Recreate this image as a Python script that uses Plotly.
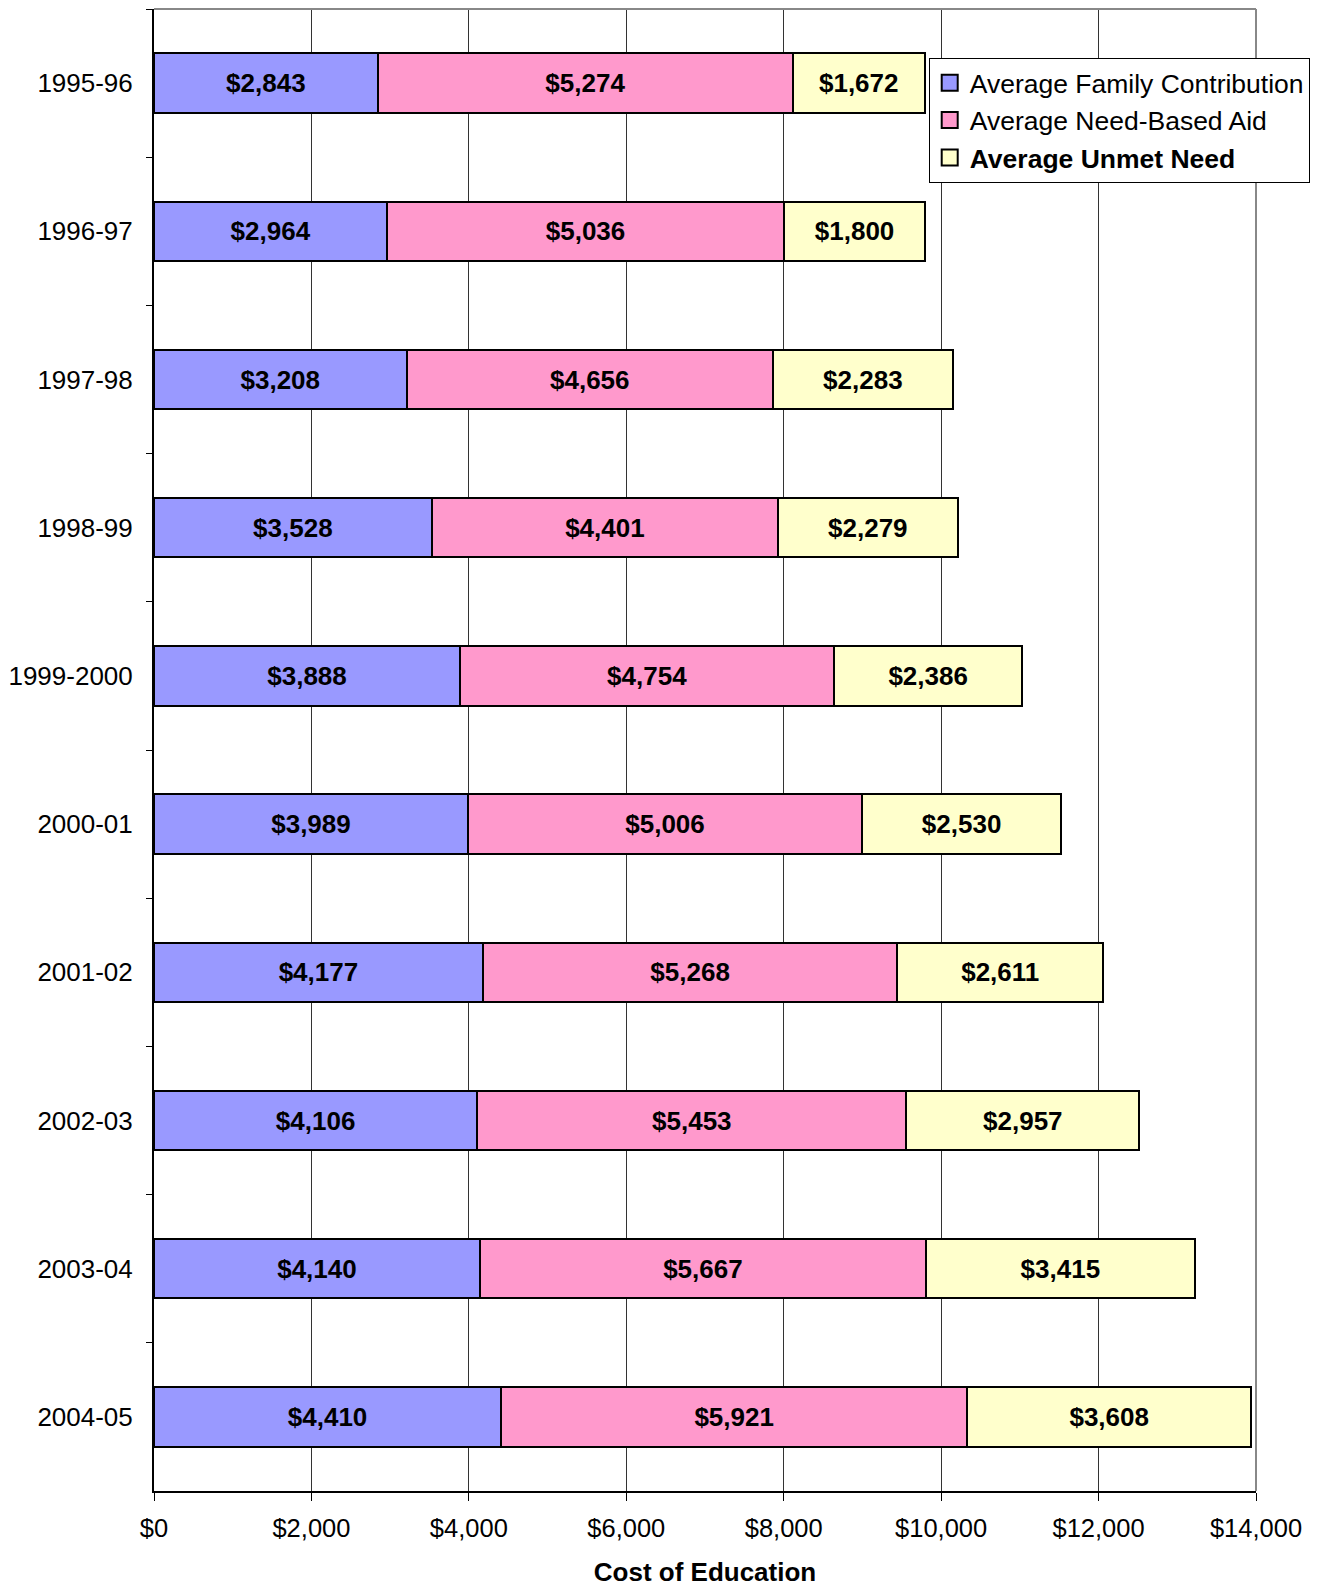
import plotly.graph_objects as go

years = ['1995-96', '1996-97', '1997-98', '1998-99', '1999-2000',
         '2000-01', '2001-02', '2002-03', '2003-04', '2004-05']
family = [2843, 2964, 3208, 3528, 3888, 3989, 4177, 4106, 4140, 4410]
need_aid = [5274, 5036, 4656, 4401, 4754, 5006, 5268, 5453, 5667, 5921]
unmet = [1672, 1800, 2283, 2279, 2386, 2530, 2611, 2957, 3415, 3608]
x_ticks = [0, 2000, 4000, 6000, 8000, 10000, 12000, 14000]

FONT = 'Liberation Sans, Arial, sans-serif'

series = [
    ('Average Family Contribution', family, '#9999FF'),
    ('Average Need-Based Aid', need_aid, '#FF99CC'),
    ('<b>Average Unmet Need</b>', unmet, '#FFFFCC'),
]

fig = go.Figure()
for name, vals, color in series:
    fig.add_bar(
        y=years, x=vals, name=name, orientation='h', showlegend=False,
        marker=dict(color=color, line=dict(color='#000000', width=2)),
        width=0.4,
        text=['<b>$' + f'{v:,}' + '</b>' for v in vals],
        textposition='inside', insidetextanchor='middle',
        textangle=0, constraintext='none',
        textfont=dict(family=FONT, size=26, color='#000000'),
    )
# legend entries with bigger square swatches
for name, vals, color in series:
    fig.add_scatter(
        x=[None], y=[None], mode='markers', name=name,
        marker=dict(symbol='square', size=16, color=color,
                    line=dict(color='#000000', width=2)),
    )

# page body has an 8px margin, so the figure is a bit smaller than the window
fig.update_layout(
    barmode='stack',
    width=1311, height=1579,
    margin=dict(l=146, r=63, t=1, b=96),
    plot_bgcolor='#FFFFFF', paper_bgcolor='#FFFFFF',
    font=dict(family=FONT, size=26, color='#000000'),
    showlegend=True,
    legend=dict(
        x=0.703, y=0.967, xanchor='left', yanchor='top',
        bordercolor='#000000', borderwidth=1, bgcolor='#FFFFFF',
        font=dict(family=FONT, size=26.5, color='#000000'),
        traceorder='normal', itemwidth=30, itemsizing='trace',
        tracegroupgap=0,
    ),
)
fig.update_xaxes(
    range=[0, 14000], tickvals=x_ticks,
    ticktext=['$' + f'{v:,}' for v in x_ticks],
    showgrid=True, gridcolor='#333333', gridwidth=1,
    showline=True, linecolor='#000000', linewidth=2,
    ticks='outside', ticklen=8, tickcolor='#000000',
    ticklabelstandoff=5, zeroline=False,
    tickfont=dict(size=25.5),
    title=dict(text='<b>Cost of Education</b>', font=dict(size=26), standoff=24),
)
fig.update_yaxes(
    type='category',
    categoryorder='array', categoryarray=years, autorange='reversed',
    showgrid=False, showline=True, linecolor='#000000', linewidth=2,
    ticks='outside', ticklen=6, tickcolor='#000000', tickson='boundaries',
    ticklabelstandoff=14, tickfont=dict(size=26),
)
# gray frame at top and right
fig.add_shape(type='line', xref='paper', yref='paper', x0=0, x1=1, y0=1, y1=1,
              line=dict(color='#888888', width=2))
fig.add_shape(type='line', xref='paper', yref='paper', x0=1, x1=1, y0=0, y1=1,
              line=dict(color='#888888', width=2))

fig.write_html('out.html')
